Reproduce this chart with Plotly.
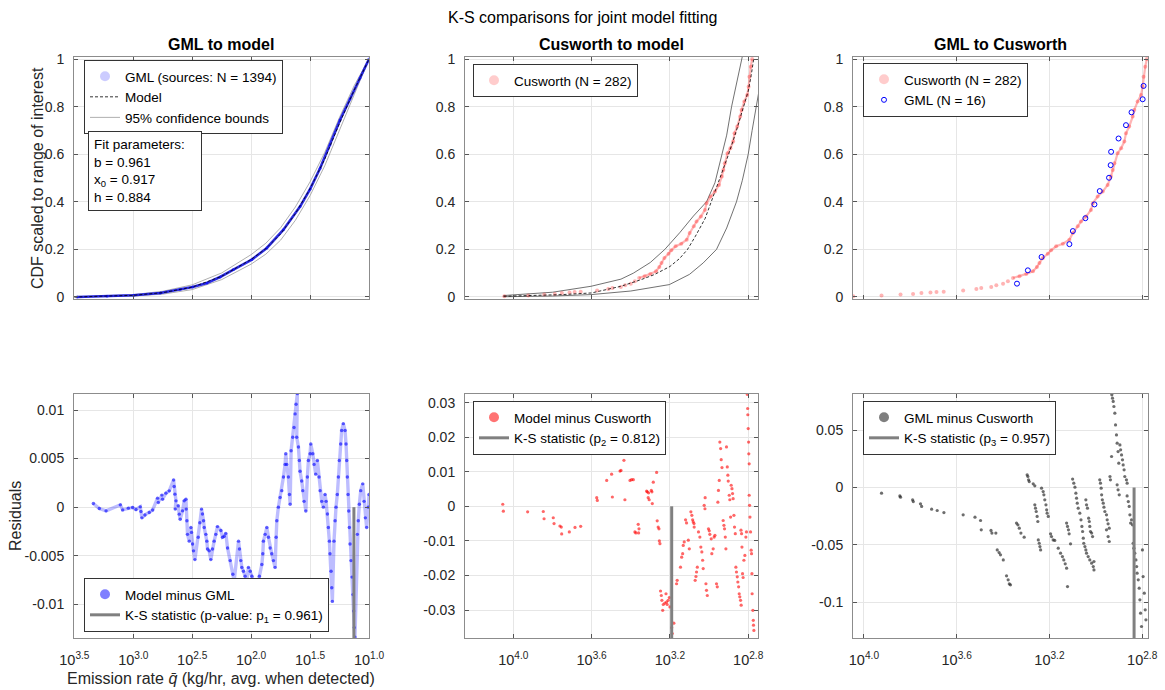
import numpy as np
import plotly.graph_objects as go

# ---------------- data ----------------
# Panel 1: GML empirical CDF (log10 of emission rate, scaled CDF)
gml_logq = [3.477, 3.223, 2.997, 2.771, 2.602, 2.497, 2.375, 2.263, 2.150, 1.994,
            1.867, 1.726, 1.585, 1.500, 1.415, 1.331, 1.246, 1.161, 1.076, 1.000]
gml_cdf = [0.000, 0.003, 0.007, 0.017, 0.031, 0.042, 0.059, 0.084, 0.115, 0.157,
           0.206, 0.283, 0.380, 0.453, 0.541, 0.639, 0.744, 0.832, 0.920, 1.000]

# Panel 1: fitted model and 95% bounds
model1_logq = [3.5, 3.25, 3.0, 2.75, 2.5, 2.25, 2.0, 1.875, 1.75, 1.625, 1.5, 1.375, 1.25, 1.125, 1.0]
model1_cdf = [0.0, 0.003, 0.007, 0.018, 0.041, 0.087, 0.158, 0.203, 0.265, 0.350, 0.455, 0.580, 0.730, 0.870, 1.0]
upper1_cdf = [0.0, 0.004, 0.010, 0.024, 0.051, 0.101, 0.178, 0.226, 0.291, 0.378, 0.484, 0.608, 0.755, 0.889, 1.0]
lower1_cdf = [0.0, 0.002, 0.004, 0.012, 0.031, 0.073, 0.138, 0.180, 0.239, 0.322, 0.426, 0.552, 0.705, 0.851, 1.0]

# Cusworth empirical CDF (shared by panels 2 and 3)
cus_logq = [4.046, 3.924, 3.842, 3.788, 3.752, 3.713, 3.687, 3.656, 3.572, 3.515,
            3.494, 3.451, 3.429, 3.400, 3.379, 3.357, 3.329, 3.300, 3.271, 3.254,
            3.243, 3.228, 3.207, 3.193, 3.171, 3.142, 3.114, 3.099, 3.078, 3.064,
            3.042, 3.021, 3.013, 2.992, 2.970, 2.949, 2.935, 2.927, 2.920, 2.906,
            2.891, 2.877, 2.870, 2.856, 2.841, 2.834, 2.820, 2.805, 2.798, 2.794,
            2.787, 2.780]
cus_cdf = [0.003, 0.006, 0.010, 0.013, 0.017, 0.019, 0.021, 0.022, 0.027, 0.034,
           0.038, 0.042, 0.049, 0.056, 0.066, 0.080, 0.087, 0.097, 0.108, 0.126,
           0.143, 0.164, 0.182, 0.196, 0.213, 0.224, 0.241, 0.269, 0.297, 0.317,
           0.338, 0.366, 0.394, 0.422, 0.443, 0.471, 0.506, 0.534, 0.562, 0.604,
           0.625, 0.653, 0.688, 0.716, 0.758, 0.786, 0.821, 0.849, 0.884, 0.926,
           0.968, 1.000]

# Panel 2: model and bounds
model2_logq = [4.05, 3.9, 3.75, 3.6, 3.45, 3.35, 3.28, 3.2, 3.15, 3.11, 3.07, 3.02,
               2.97, 2.93, 2.9, 2.86, 2.83, 2.80, 2.785, 2.772]
model2_cdf = [0.003, 0.006, 0.010, 0.017, 0.045, 0.072, 0.094, 0.128, 0.162, 0.200,
              0.255, 0.330, 0.440, 0.530, 0.600, 0.700, 0.780, 0.865, 0.930, 1.000]
upper2_logq = [4.051, 3.80, 3.603, 3.45, 3.387, 3.30, 3.226, 3.15, 3.08, 3.013,
               2.97, 2.936, 2.91, 2.885, 2.86, 2.834, 2.825]
upper2_cdf = [0.006, 0.020, 0.045, 0.075, 0.100, 0.145, 0.200, 0.270, 0.340, 0.400,
              0.480, 0.600, 0.680, 0.800, 0.900, 1.000, 1.030]
lower2_logq = [4.051, 3.80, 3.603, 3.40, 3.203, 3.10, 3.03, 2.962, 2.91, 2.86,
               2.83, 2.80, 2.78, 2.761, 2.749, 2.74]
lower2_cdf = [0.001, 0.004, 0.010, 0.025, 0.052, 0.095, 0.143, 0.200, 0.290, 0.400,
              0.490, 0.600, 0.700, 0.800, 0.860, 0.890]

# Panel 3: GML sources matched to Cusworth (N = 16)
gml16_logq = [3.340, 3.293, 3.234, 3.114, 3.099, 3.045, 3.006, 2.983, 2.943, 2.936,
              2.934, 2.902, 2.870, 2.846, 2.798, 2.794]
gml16_cdf = [0.056, 0.112, 0.168, 0.222, 0.277, 0.331, 0.389, 0.445, 0.501, 0.554,
             0.610, 0.666, 0.722, 0.776, 0.831, 0.887]

# Panel 4: model minus GML
res1_logq = [3.339, 3.288, 3.231, 3.110, 3.090, 3.042, 3.006, 2.977, 2.941, 2.935,
             2.927, 2.901, 2.864, 2.836, 2.794, 2.788, 2.757, 2.752, 2.723, 2.695,
             2.658, 2.653, 2.647, 2.638, 2.644, 2.619, 2.610, 2.602, 2.582, 2.568,
             2.553, 2.551, 2.545, 2.540, 2.525, 2.511, 2.506, 2.497, 2.489, 2.477,
             2.449, 2.435, 2.421, 2.413, 2.404, 2.398, 2.384, 2.376, 2.370, 2.356,
             2.342, 2.328, 2.314, 2.300, 2.286, 2.257, 2.243, 2.228, 2.215, 2.200,
             2.178, 2.155, 2.144, 2.107, 2.099, 2.088, 2.079, 2.065, 2.051, 2.037,
             2.023, 2.008, 1.994, 1.980, 1.966, 1.958, 1.947, 1.930, 1.909, 1.901,
             1.896, 1.881, 1.867, 1.853, 1.839, 1.825, 1.811, 1.797, 1.788, 1.782,
             1.769, 1.754, 1.740, 1.726, 1.712, 1.706, 1.698, 1.684, 1.675, 1.669,
             1.661, 1.647, 1.636, 1.627, 1.619, 1.608, 1.613, 1.599, 1.591, 1.585,
             1.571, 1.562, 1.551, 1.536, 1.523, 1.514, 1.500, 1.494, 1.477, 1.466,
             1.452, 1.438, 1.424, 1.415, 1.401, 1.387, 1.373, 1.364, 1.353, 1.345,
             1.336, 1.331, 1.322, 1.316, 1.311, 1.297, 1.288, 1.280, 1.269, 1.260,
             1.252, 1.240, 1.232, 1.218, 1.203, 1.195, 1.189, 1.184, 1.178, 1.172,
             1.167, 1.161, 1.153, 1.144, 1.136, 1.130, 1.125, 1.119, 1.099, 1.091,
             1.082, 1.070, 1.053, 1.042, 1.031, 1.020, 1.006, 1.000]
res1_val = [0.00038, -0.00014, -0.00038, 0.00024, -0.00028, -0.0001, -0.00003, -0.00024, 0.00003, -0.00044,
            -0.0011, -0.0008, -0.00055, -0.0003, 0.00093, 0.00048, 0.00124, 0.00082, 0.00144, 0.00168,
            0.0028, 0.00213, 0.00134, 0.00065, -0.0002, 0.00014, -0.00072, -0.00124, -0.00038, 0.00065,
            0.00082, -0.0002, -0.0014, -0.0028, -0.0035, -0.0021, -0.0026, -0.0038, -0.0045, -0.0054,
            -0.0031, -0.0016, -0.0002, -0.0007, -0.0014, -0.0021, -0.0028, -0.0035, -0.0043, -0.0045,
            -0.0054, -0.0043, -0.0035, -0.0028, -0.0020, -0.0024, -0.0031, -0.0030, -0.0027, -0.0042,
            -0.0055, -0.0069, -0.0076, -0.0035, -0.0043, -0.0055, -0.0062, -0.0066, -0.0071, -0.0076,
            -0.0062, -0.0066, -0.0071, -0.0076, -0.0081, -0.0086, -0.0090, -0.0071, -0.0059, -0.0048,
            -0.0035, -0.0028, -0.0021, -0.0031, -0.0042, -0.0048, -0.0055, -0.0062, -0.0031, -0.0014,
            0.0000, 0.0010, 0.0017, 0.0031, 0.0044, 0.0055, 0.0044, 0.0031, 0.0013, 0.0003,
            0.0058, 0.0072, 0.0082, 0.0096, 0.0106, 0.0117, 0.0072, 0.0062, 0.0048, 0.0037,
            0.0027, 0.0017, 0.0006, -0.0004, 0.0031, 0.0048, 0.0055, 0.0065, 0.0055, 0.0044,
            0.0034, 0.0048, 0.0031, 0.0017, 0.0006, 0.0000, 0.0013, 0.0006, -0.0007, -0.0021,
            -0.0035, -0.0048, -0.0066, -0.0083, -0.0097, -0.0035, -0.0014, 0.0000, 0.0013, 0.0031,
            0.0048, 0.0065, 0.0079, 0.0086, 0.0079, 0.0065, 0.0048, 0.0031, 0.0013, -0.0004,
            -0.0021, -0.0038, -0.0055, -0.0072, -0.0090, -0.0107, -0.0124, -0.0134, -0.0028, -0.0014,
            0.0003, 0.0017, 0.0024, 0.0006, -0.0011, -0.0021, 0.0000, 0.0013]

# Panel 5: model minus Cusworth
res2_logq = [4.054, 4.051, 3.927, 3.847, 3.843, 3.796, 3.792, 3.762, 3.755, 3.753,
             3.714, 3.685, 3.656, 3.574, 3.571, 3.523, 3.498, 3.494, 3.455, 3.450,
             3.435, 3.430, 3.404, 3.396, 3.387, 3.379, 3.374, 3.362, 3.358, 3.360,
             3.319, 3.316, 3.309, 3.311, 3.306, 3.295, 3.292, 3.290, 3.285, 3.268,
             3.265, 3.260, 3.256, 3.254, 3.251, 3.248, 3.244, 3.241, 3.237, 3.234,
             3.226, 3.220, 3.217, 3.214, 3.209, 3.203, 3.200, 3.191, 3.188, 3.180,
             3.166, 3.163, 3.146, 3.140, 3.135, 3.132, 3.127, 3.120, 3.115, 3.106,
             3.101, 3.093, 3.088, 3.084, 3.081, 3.077, 3.076, 3.071, 3.067, 3.064,
             3.060, 3.054, 3.047, 3.042, 3.037, 3.033, 3.030, 3.025, 3.021, 3.020,
             3.016, 3.013, 3.009, 3.003, 2.999, 2.996, 2.989, 2.986, 2.979, 2.974,
             2.970, 2.962, 2.958, 2.955, 2.952, 2.948, 2.945, 2.941, 2.938, 2.934,
             2.928, 2.924, 2.921, 2.917, 2.914, 2.911, 2.907, 2.904, 2.902, 2.897,
             2.894, 2.890, 2.887, 2.883, 2.880, 2.877, 2.873, 2.870, 2.866, 2.863,
             2.860, 2.856, 2.853, 2.849, 2.846, 2.843, 2.839, 2.836, 2.837, 2.834,
             2.832, 2.829, 2.826, 2.822, 2.817, 2.812, 2.809, 2.805, 2.803, 2.802,
             2.800, 2.798, 2.797, 2.795, 2.795, 2.793, 2.791, 2.788, 2.785, 2.783,
             2.781, 2.780, 2.776, 2.774, 2.773, 2.771]
res2_val = [0.0006, -0.0014, -0.0016, -0.0015, -0.0036, -0.0033, -0.0050, -0.0057, -0.0060, -0.0080,
            -0.0074, -0.0061, -0.0058, 0.0025, 0.0017, 0.0075, 0.0093, 0.0027, 0.0102, 0.0104,
            0.0133, 0.0019, 0.0075, 0.0077, 0.0077, -0.0074, -0.0077, -0.0052, -0.0065, -0.0077,
            0.0044, 0.0042, 0.0039, 0.0025, 0.0019, 0.0046, 0.0042, 0.0008, 0.0070, 0.0098,
            -0.0042, -0.0060, -0.0065, -0.0100, -0.0108, -0.0245, -0.0258, -0.0272, -0.0301, -0.0284,
            -0.0280, -0.0253, -0.0277, -0.0284, -0.0272, -0.0264, -0.0291, -0.0351, -0.0368, -0.0338,
            -0.0224, -0.0214, -0.0176, -0.0147, -0.0137, -0.0113, -0.0103, -0.0039, -0.0048, -0.0098,
            -0.0123, -0.0016, -0.0026, -0.0039, -0.0045, -0.0050, -0.0060, -0.0214, -0.0203, -0.0190,
            -0.0176, -0.0074, -0.0089, -0.0118, -0.0132, -0.0156, -0.0180, 0.0003, -0.0007, 0.0025,
            -0.0224, -0.0243, -0.0258, -0.0065, -0.0071, -0.0081, -0.0094, -0.0137, -0.0123, -0.0089,
            -0.0084, -0.0224, -0.0233, 0.0012, 0.0046, 0.0075, 0.0186, 0.0167, 0.0135, 0.0112,
            -0.0041, -0.0055, -0.0065, -0.0089, -0.0123, 0.0172, 0.0114, 0.0090, 0.0073, 0.0032,
            0.0019, -0.0031, 0.0061, 0.0051, 0.0037, 0.0022, -0.0026, -0.0060, -0.0079, -0.0176,
            -0.0190, -0.0204, -0.0219, -0.0233, -0.0253, -0.0262, -0.0272, -0.0286, -0.0069, -0.0079,
            -0.0118, -0.0195, -0.0206, -0.0156, -0.0142, -0.0089, -0.0074, 0.0324, 0.0283, 0.0265,
            0.0225, 0.0186, 0.0152, 0.0123, 0.0032, 0.0003, -0.0031, -0.0074, -0.0127, -0.0137,
            -0.0195, -0.0253, -0.0301, -0.0330, -0.0344, -0.0359]

# Panel 6: GML minus Cusworth
res3_logq = [3.924, 3.845, 3.842, 3.790, 3.787, 3.756, 3.751, 3.708, 3.684, 3.655,
             3.572, 3.521, 3.497, 3.494, 3.452, 3.448, 3.431, 3.425, 3.417, 3.411,
             3.399, 3.385, 3.378, 3.373, 3.368, 3.342, 3.336, 3.330, 3.323, 3.309,
             3.296, 3.293, 3.290, 3.287, 3.270, 3.263, 3.263, 3.260, 3.257, 3.253,
             3.250, 3.248, 3.244, 3.241, 3.238, 3.234, 3.227, 3.224, 3.220, 3.215,
             3.212, 3.210, 3.205, 3.195, 3.191, 3.184, 3.177, 3.162, 3.152, 3.144,
             3.138, 3.132, 3.126, 3.122, 3.126, 3.122, 3.118, 3.115, 3.109, 3.100,
             3.095, 3.090, 3.086, 3.083, 3.080, 3.076, 3.069, 3.064, 3.060, 3.057,
             3.054, 3.052, 3.047, 3.043, 3.040, 3.033, 3.026, 3.018, 3.011, 3.008,
             3.043, 3.040, 3.036, 3.031, 3.028, 3.026, 3.023, 3.018, 3.014, 3.008,
             2.983, 2.980, 2.977, 2.975, 2.972, 2.968, 2.965, 2.961, 2.954, 2.951,
             2.947, 2.942, 2.954, 2.947, 2.942, 2.939, 2.937, 2.932, 2.931, 2.928,
             2.925, 2.922, 2.918, 2.915, 2.911, 2.908, 2.904, 2.901, 2.908, 2.904,
             2.899, 2.896, 2.893, 2.889, 2.885, 2.882, 2.878, 2.875, 2.868, 2.865,
             2.865, 2.860, 2.856, 2.853, 2.850, 2.846, 2.842, 2.839, 2.836, 2.832,
             2.827, 2.824, 2.822, 2.817, 2.813, 2.810, 2.807, 2.803, 2.799, 2.796,
             2.791, 2.787, 2.784]
res3_val = [-0.0049, -0.0073, -0.0084, -0.0107, -0.0122, -0.0142, -0.0165, -0.0189, -0.0200, -0.0218,
            -0.0238, -0.0258, -0.0287, -0.0368, -0.0374, -0.0397, -0.0397, -0.0543, -0.0566, -0.0586,
            -0.0630, -0.0769, -0.0804, -0.0839, -0.0847, -0.0310, -0.0325, -0.0354, -0.0397, -0.0432,
            0.0110, 0.0096, 0.0067, 0.0052, 0.0032, 0.0015, -0.0151, -0.0180, -0.0209, -0.0252,
            -0.0296, -0.0456, -0.0485, -0.0514, -0.0543, -0.0006, -0.0035, -0.0064, -0.0107, -0.0151,
            -0.0194, -0.0223, -0.0252, -0.0403, -0.0427, -0.0456, -0.0461, -0.0528, -0.0572, -0.0601,
            -0.0630, -0.0664, -0.0702, -0.0862, -0.0310, -0.0339, -0.0368, -0.0403, -0.0490, 0.0073,
            0.0038, 0.0003, -0.0049, -0.0093, -0.0136, -0.0180, -0.0223, -0.0281, -0.0339, -0.0383,
            -0.0441, -0.0485, -0.0514, -0.0543, -0.0572, -0.0601, -0.0630, -0.0659, -0.0688, -0.0717,
            -0.0107, -0.0151, -0.0180, -0.0267, -0.0296, -0.0339, -0.0383, -0.0397, -0.0427, -0.0644,
            0.0067, 0.0038, -0.0006, -0.0064, -0.0107, -0.0136, -0.0171, -0.0209, -0.0238, -0.0281,
            -0.0316, -0.0354, -0.0368, -0.0427, -0.0470, 0.0096, 0.0067, 0.0270, 0.0807, 0.0778,
            0.0749, 0.0705, 0.0647, 0.0545, 0.0458, 0.0386, 0.0313, 0.0212, 0.0023, -0.0020,
            -0.0064, 0.0371, 0.0328, 0.0284, 0.0241, 0.0197, 0.0154, 0.0096, 0.0067, 0.0038,
            -0.0073, -0.0122, -0.0165, -0.0238, -0.0310, -0.0281, -0.0325, -0.0485, -0.0528, -0.0572,
            -0.0630, -0.0688, -0.0746, -0.0804, -0.0876, -0.0978, -0.1094, -0.1210, -0.0543, -0.0775,
            -0.0920, -0.1065, -0.1152]

# K-S statistic markers: location (log10 q) and maximum deviation
ks_logq = [1.128, 3.191, 2.835]
ks_dev = [0.0135, 0.0381, 0.131]

# Axis ticks
p1_tick_exp = [3.5, 3.0, 2.5, 2.0, 1.5, 1.0]
p23_tick_exp = [4.0, 3.6, 3.2, 2.8]
cdf_ticks = [0, 0.2, 0.4, 0.6, 0.8, 1]
res1_ticks = [-0.01, -0.005, 0, 0.005, 0.01]
res2_ticks = [-0.03, -0.02, -0.01, 0, 0.01, 0.02, 0.03]
res3_ticks = [-0.1, -0.05, 0, 0.05]

# ---------------- figure ----------------
W, H = 1165, 690
FONT = "Liberation Sans, Arial, sans-serif"
TXT = "#262626"


def px_x(a, b):
    return [a / W, b / W]


def px_y(top, bottom):
    return [1 - bottom / H, 1 - top / H]


def q(vals):
    return [10 ** v for v in vals]


def fmt(v):
    return f"{v:g}"


col_dom = [px_x(74, 369), px_x(465, 758), px_x(853, 1148)]
row_dom = [px_y(57, 299), px_y(394, 638)]
x_ranges = [[3.503, 1.0], [4.247, 2.750], [4.047, 2.775]]
x_ticks = [p1_tick_exp, p23_tick_exp, p23_tick_exp]
y_ranges = [[-0.0085, 1.0085], [-0.0085, 1.0085], [-0.0085, 1.0085],
            [-0.01347, 0.01165], [-0.0381, 0.0325], [-0.131, 0.0814]]
y_ticks = [cdf_ticks, cdf_ticks, cdf_ticks, res1_ticks, res2_ticks, res3_ticks]

fig = go.Figure()
layout = dict(template="none", width=W, height=H, margin=dict(l=0, r=0, t=0, b=0, pad=0),
              autosize=False, paper_bgcolor="white", plot_bgcolor="white",
              font=dict(family=FONT, color=TXT, size=14), showlegend=True)

for i in range(6):
    r, c = divmod(i, 3)
    n = "" if i == 0 else str(i + 1)
    exps = x_ticks[c]
    layout["xaxis" + n] = dict(
        type="log", domain=col_dom[c], range=x_ranges[c], anchor="y" + n, automargin=False,
        tickvals=q(exps), ticktext=[f"10<sup>{e:.1f}</sup>" for e in exps],
        showticklabels=(r == 1), ticks="inside", ticklen=4, tickcolor="#555555",
        showline=True, linecolor="#8c8c8c", linewidth=1, mirror="ticks",
        showgrid=True, gridcolor="#e6e6e6", gridwidth=1, zeroline=False,
        tickfont=dict(size=14.5, color=TXT, family=FONT), ticklabelstandoff=9)
    layout["yaxis" + n] = dict(
        domain=row_dom[r], range=y_ranges[i], anchor="x" + n, automargin=False,
        tickvals=y_ticks[i], ticktext=[fmt(v) for v in y_ticks[i]],
        ticks="inside", ticklen=4, tickcolor="#555555",
        showline=True, linecolor="#8c8c8c", linewidth=1, mirror="ticks",
        showgrid=True, gridcolor="#e6e6e6", gridwidth=1, zeroline=False,
        tickfont=dict(size=14, color=TXT, family=FONT), ticklabelstandoff=6)


def ax(i):
    n = "" if i == 0 else str(i + 1)
    return dict(xaxis="x" + n, yaxis="y" + n)


def legend_box(x0, y0):
    return dict(x=x0 / W, y=1 - y0 / H, xanchor="left", yanchor="top",
                bgcolor="white", bordercolor="#333333", borderwidth=1,
                font=dict(family=FONT, size=13.5, color="black"),
                tracegroupgap=0, itemsizing="trace")


layout["legend"] = legend_box(84, 60)
layout["legend2"] = legend_box(473, 64)
layout["legend3"] = legend_box(863, 63)
layout["legend4"] = legend_box(84, 578)
layout["legend5"] = legend_box(473, 401)
layout["legend6"] = legend_box(863, 401)

# ---- Panel 1 ----
for bound in (upper1_cdf, lower1_cdf):
    fig.add_trace(go.Scatter(x=q(model1_logq), y=bound, mode="lines",
                             line=dict(color="#9a9a9a", width=0.8), showlegend=False, **ax(0)))
fig.add_trace(go.Scatter(x=q(gml_logq), y=gml_cdf, mode="lines+markers",
                         line=dict(color="rgba(20,20,225,0.9)", width=2.6),
                         marker=dict(color="rgba(0,0,255,0.5)", size=3),
                         showlegend=False, **ax(0)))
fig.add_trace(go.Scatter(x=q(model1_logq), y=model1_cdf, mode="lines",
                         line=dict(color="black", width=0.8, dash="3px,2px"),
                         showlegend=False, **ax(0)))
fig.add_trace(go.Scatter(x=[None], y=[None], mode="markers", name="GML (sources: N = 1394)",
                         marker=dict(color="rgba(0,0,255,0.2)", size=10), legend="legend", **ax(0)))
fig.add_trace(go.Scatter(x=[None], y=[None], mode="lines", name="Model",
                         line=dict(color="black", width=0.8, dash="3px,2px"), legend="legend", **ax(0)))
fig.add_trace(go.Scatter(x=[None], y=[None], mode="lines", name="95% confidence bounds",
                         line=dict(color="#9a9a9a", width=0.8), legend="legend", **ax(0)))

# ---- Panel 2 ----
fig.add_trace(go.Scatter(x=q(upper2_logq), y=upper2_cdf, mode="lines",
                         line=dict(color="#4d4d4d", width=0.8), showlegend=False, **ax(1)))
fig.add_trace(go.Scatter(x=q(lower2_logq), y=lower2_cdf, mode="lines",
                         line=dict(color="#4d4d4d", width=0.8), showlegend=False, **ax(1)))
dense = [k for k, v in enumerate(cus_cdf) if v >= 0.08]
for a in (1, 2):
    fig.add_trace(go.Scatter(x=q([cus_logq[k] for k in dense]), y=[cus_cdf[k] for k in dense],
                             mode="lines", line=dict(color="rgba(255,70,70,0.4)", width=2.2),
                             showlegend=False, **ax(a)))
    fig.add_trace(go.Scatter(x=q(cus_logq), y=cus_cdf, mode="markers",
                             marker=dict(color="rgba(255,40,40,0.35)", size=4),
                             showlegend=False, **ax(a)))
fig.add_trace(go.Scatter(x=q(model2_logq), y=model2_cdf, mode="lines",
                         line=dict(color="black", width=0.8, dash="3px,2px"),
                         showlegend=False, **ax(1)))
fig.add_trace(go.Scatter(x=[None], y=[None], mode="markers", name="Cusworth (N = 282)",
                         marker=dict(color="rgba(255,0,0,0.2)", size=10), legend="legend2", **ax(1)))

# ---- Panel 3 ----
fig.add_trace(go.Scatter(x=q(gml16_logq), y=gml16_cdf, mode="markers",
                         marker=dict(symbol="circle-open", color="blue", size=5, line=dict(width=1)),
                         showlegend=False, **ax(2)))
fig.add_trace(go.Scatter(x=[None], y=[None], mode="markers", name="Cusworth (N = 282)",
                         marker=dict(color="rgba(255,0,0,0.2)", size=10), legend="legend3", **ax(2)))
fig.add_trace(go.Scatter(x=[None], y=[None], mode="markers", name="GML (N = 16)",
                         marker=dict(symbol="circle-open", color="blue", size=5, line=dict(width=1)),
                         legend="legend3", **ax(2)))

# ---- Residual panels ----
fig.add_trace(go.Scatter(x=q(res1_logq), y=res1_val, mode="lines+markers",
                         line=dict(color="rgba(0,0,255,0.26)", width=3.4),
                         marker=dict(color="rgba(0,0,255,0.6)", size=3.4),
                         showlegend=False, **ax(3)))
fig.add_trace(go.Scatter(x=q(res2_logq), y=res2_val, mode="markers",
                         marker=dict(color="rgba(255,0,0,0.6)", size=3.2),
                         showlegend=False, **ax(4)))
fig.add_trace(go.Scatter(x=q(res3_logq), y=res3_val, mode="markers",
                         marker=dict(color="rgba(30,30,30,0.65)", size=3.2),
                         showlegend=False, **ax(5)))

res_names = ["Model minus GML", "Model minus Cusworth", "GML minus Cusworth"]
res_colors = ["rgba(0,0,255,0.5)", "rgba(255,0,0,0.55)", "rgba(0,0,0,0.5)"]
ks_names = ["K-S statistic (p-value: p<sub>1</sub> = 0.961)",
            "K-S statistic (p<sub>2</sub> = 0.812)",
            "K-S statistic (p<sub>3</sub> = 0.957)"]
for j in range(3):
    i = 3 + j
    lg = "legend" + str(i + 1)
    fig.add_trace(go.Scatter(x=[10 ** ks_logq[j]] * 2, y=[0, -ks_dev[j]], mode="lines",
                             line=dict(color="#808080", width=3), showlegend=False, **ax(i)))
    fig.add_trace(go.Scatter(x=[None], y=[None], mode="markers", name=res_names[j],
                             marker=dict(color=res_colors[j], size=10), legend=lg, **ax(i)))
    fig.add_trace(go.Scatter(x=[None], y=[None], mode="lines", name=ks_names[j],
                             line=dict(color="#808080", width=3), legend=lg, **ax(i)))

# ---- Text ----
def label(text, cx, cy, size=16, color=TXT, angle=0, **kw):
    return dict(text=text, x=cx / W, y=1 - cy / H, xref="paper", yref="paper",
                xanchor="center", yanchor="middle", textangle=angle, showarrow=False,
                font=dict(size=size, color=color, family=FONT), **kw)


ann = [label("K-S comparisons for joint model fitting", 582, 17, color="black")]
for txt, cx in (("GML to model", 221), ("Cusworth to model", 611), ("GML to Cusworth", 1000)):
    ann.append(label(f"<b>{txt}</b>", cx, 45, color="black"))
ann.append(label("CDF scaled to range of interest", 37, 178, angle=-90))
ann.append(label("Residuals", 15, 516, angle=-90))
ann.append(label("Emission rate <i>q\u0304</i> (kg/hr, avg. when detected)", 221, 678))
ann.append(dict(text="Fit parameters:<br>b = 0.961<br>x<sub>0</sub> = 0.917<br>h = 0.884",
                x=88 / W, y=1 - 131 / H, xref="paper", yref="paper", xanchor="left", yanchor="top",
                align="left", width=102, showarrow=False, bgcolor="white", bordercolor="#333333",
                borderwidth=1, borderpad=5, font=dict(size=13.5, color="black", family=FONT)))
layout["annotations"] = ann

fig.update_layout(**layout)
fig.write_html("out.html")
